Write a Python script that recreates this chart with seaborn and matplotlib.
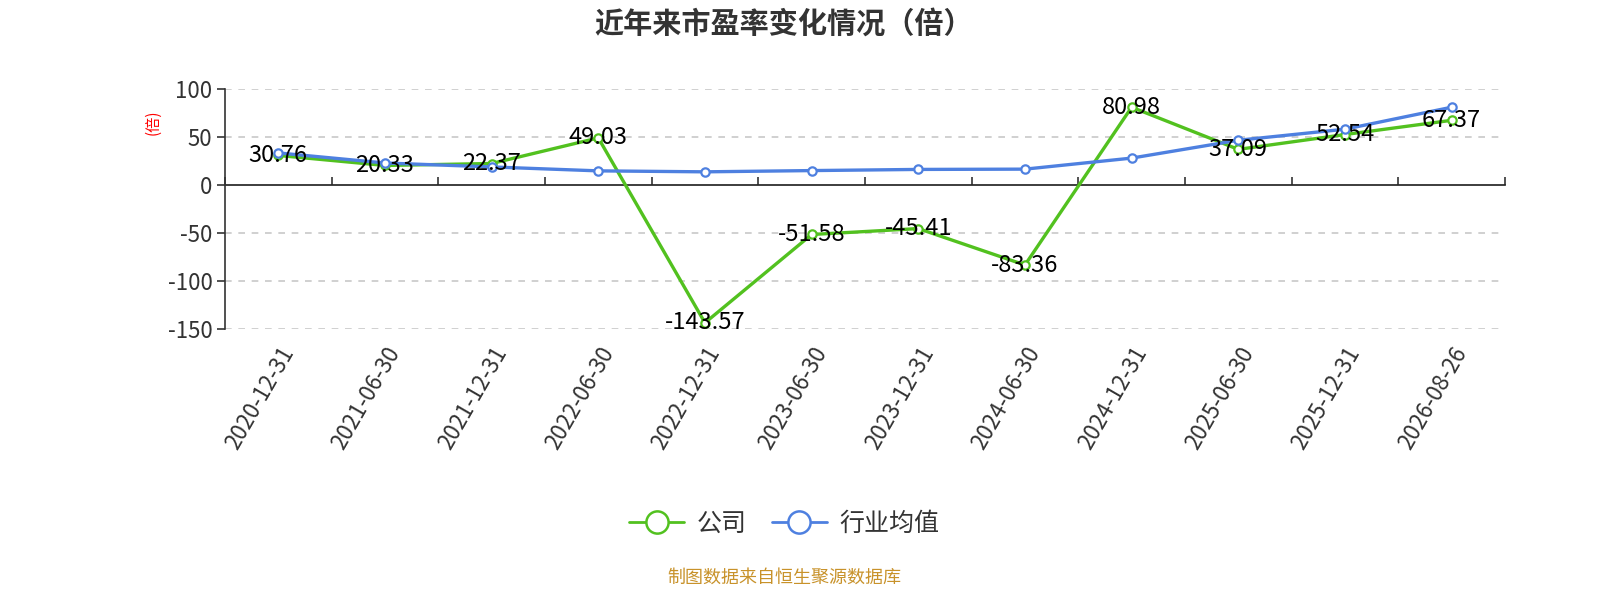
import pandas as pd
import numpy as np
import matplotlib
matplotlib.use('Agg')
import matplotlib.pyplot as plt
from matplotlib.lines import Line2D
import seaborn as sns

# data
dates = ['2020-12-31', '2021-06-30', '2021-12-31', '2022-06-30', '2022-12-31', '2023-06-30',
         '2023-12-31', '2024-06-30', '2024-12-31', '2025-06-30', '2025-12-31', '2026-08-26']
company_pe = [30.76, 20.33, 22.37, 49.03, -143.57, -51.58, -45.41, -83.36, 80.98, 37.09, 52.54, 67.37]
industry_pe = [33.4, 22.9, 18.8, 14.7, 13.7, 15.0, 16.2, 16.5, 28.0, 46.6, 58.1, 81.0]
series_names = ['公司', '行业均值']
yticks = [100, 50, 0, -50, -100, -150]

colors = {'公司': '#52C11F', '行业均值': '#4E80E0'}

df = pd.concat([
    pd.DataFrame({'date': dates, 'pe': company_pe, 'series': series_names[0]}),
    pd.DataFrame({'date': dates, 'pe': industry_pe, 'series': series_names[1]}),
])

sns.set_theme(style='white')
plt.rcParams['font.family'] = ['Noto Sans CJK SC', 'DejaVu Sans']
plt.rcParams['axes.unicode_minus'] = False

fig = plt.figure(figsize=(16, 6), dpi=100)
ax = fig.add_axes([0.1406, 0.4517, 0.8, 0.40])

sns.lineplot(data=df, x='date', y='pe', hue='series', style='series',
             palette=colors, markers={'公司': 'o', '行业均值': 'o'}, dashes=False,
             linewidth=2.4, markersize=6, sort=False, legend=False, ax=ax)

for line, name in zip(ax.get_lines(), series_names):
    line.set_markerfacecolor('white')
    line.set_markeredgecolor(colors[name])
    line.set_markeredgewidth(1.6)
    line.set_zorder(3 if name == '行业均值' else 2)

# value labels on the company series
for i, v in enumerate(company_pe):
    ax.text(i, v, f'{v:.2f}', ha='center', va='center', fontsize=17,
            color='black', zorder=5)

ax.set_xlim(-0.5, len(dates) - 0.5)
ax.set_ylim(-150, 100)
ax.set_yticks(yticks)
ax.set_yticklabels([str(t) for t in yticks])
for t in yticks:
    if t != 0:
        ax.axhline(t, color='#c8c8c8', linestyle=(0, (4, 4)), linewidth=1.2, zorder=0)

ax.set_xlabel('')
ax.set_ylabel('(倍)', color='red', fontsize=11)
ax.yaxis.set_label_coords(-0.05, 0.86)

for s in ['top', 'right', 'bottom']:
    ax.spines[s].set_visible(False)
ax.spines['left'].set_color('#333333')
ax.spines['left'].set_linewidth(1.2)

ax.tick_params(axis='y', length=6, width=1.2, color='#333333', labelsize=16,
               labelcolor='#333333', left=True, pad=3)
ax.tick_params(axis='x', length=0, labelsize=16, labelcolor='#333333', pad=10)
plt.setp(ax.get_xticklabels(), rotation=60, ha='right', rotation_mode='anchor')

# category axis line sitting at y = 0
zero_axis = ax.secondary_xaxis(150 / 250)
zero_axis.set_xticks(np.arange(len(dates) + 1) - 0.5)
zero_axis.set_xticklabels([])
zero_axis.tick_params(length=6, width=1.2, color='#333333')
zero_axis.spines['bottom'].set_color('#333333')
zero_axis.spines['bottom'].set_linewidth(1.2)

fig.suptitle('近年来市盈率变化情况（倍）', x=0.49, y=0.985, fontsize=21,
             fontweight='bold', color='#333333')

handles = [Line2D([], [], color=colors[n], linewidth=2, marker='o', markersize=16,
                  markerfacecolor='white', markeredgewidth=1.8) for n in series_names]
fig.legend(handles, series_names, loc='center', bbox_to_anchor=(0.49, 0.127), ncol=2,
           frameon=False, fontsize=18, handlelength=2.2, columnspacing=1.0,
           handletextpad=0.5, labelcolor='#333333')

fig.text(0.49, 0.038, '制图数据来自恒生聚源数据库', ha='center', va='center',
         fontsize=13, color='#C8922A')

fig.savefig('out.png', dpi=100)
